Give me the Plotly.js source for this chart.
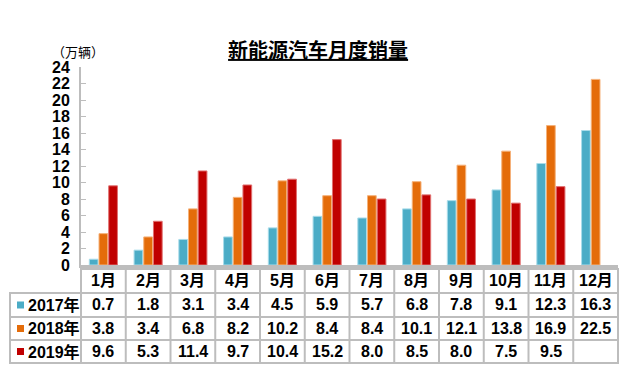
<!DOCTYPE html>
<html>
<head>
<meta charset="utf-8">
<script src="https://cdn.plot.ly/plotly-3.0.1.min.js"></script>
<style>html,body{margin:0;padding:0;background:#fff;}#chart{width:640px;height:380px;}</style>
</head>
<body>
<div id="chart"></div>
<script>
const months = ["1月","2月","3月","4月","5月","6月","7月","8月","9月","10月","11月","12月"];
const seriesNames = ["2017年","2018年","2019年"];
const sales2017 = [0.7,1.8,3.1,3.4,4.5,5.9,5.7,6.8,7.8,9.1,12.3,16.3];
const sales2018 = [3.8,3.4,6.8,8.2,10.2,8.4,8.4,10.1,12.1,13.8,16.9,22.5];
const sales2019 = [9.6,5.3,11.4,9.7,10.4,15.2,8.0,8.5,8.0,7.5,9.5,null];
const yTicks = [0,2,4,6,8,10,12,14,16,18,20,22,24];
const colors = ["#4BACC6","#E46C0A","#C00000"];
const edgeColors = ["#A9DCEA","#F5B27A","#E07070"];
const allSeries = [sales2017, sales2018, sales2019];

const FONT = "Liberation Sans, Arial, Noto Sans CJK SC, sans-serif";
const GRID = "#BDBDBD";
const PW = 537, PH = 198;

const traces = allSeries.map((vals, i) => ({
  type: "bar", name: seriesNames[i], x: months, y: vals,
  marker: {color: colors[i], line: {color: edgeColors[i], width: 1}},
  hoverinfo: "x+y"
}));

// table geometry (paper coords)
const rowLines = [-0.0202, -0.1414, -0.2626, -0.3788, -0.4949];
const rowCenters = [-0.0808, -0.2020, -0.3207, -0.4369];
const leftEdge = (10 - 81) / PW;
const th = 1 / PH, tw = 1 / PW; // half line thickness

const shapes = [];
rowLines.forEach((y, i) => {
  shapes.push({type: "rect", xref: "paper", yref: "paper",
    x0: (i === 0 ? 0 : leftEdge) - tw, x1: 1 + tw, y0: y - th, y1: y + th,
    fillcolor: GRID, line: {width: 0}});
});
for (let k = 0; k <= months.length; k++) {
  const x = k / months.length;
  shapes.push({type: "rect", xref: "paper", yref: "paper",
    x0: x - tw, x1: x + tw, y0: rowLines[4] - th, y1: rowLines[0] + th,
    fillcolor: GRID, line: {width: 0}});
}
shapes.push({type: "rect", xref: "paper", yref: "paper",
  x0: leftEdge - tw, x1: leftEdge + tw, y0: rowLines[4] - th, y1: rowLines[1] + th,
  fillcolor: GRID, line: {width: 0}});
seriesNames.forEach((n, i) => {
  const yc = rowCenters[i + 1];
  shapes.push({type: "rect", xref: "paper", yref: "paper",
    x0: (17 - 81) / PW, x1: (24 - 81) / PW,
    y0: yc - 3.5 / PH, y1: yc + 3.5 / PH,
    fillcolor: colors[i], line: {width: 0}});
});

const annotations = [];
const cellFont = {size: 16, color: "#000", family: FONT};
months.forEach((m, j) => {
  annotations.push({xref: "x", yref: "paper", x: m, y: rowCenters[0],
    xanchor: "center", yanchor: "middle",
    text: "<b>" + m + "</b>", showarrow: false, font: cellFont});
  allSeries.forEach((vals, i) => {
    if (vals[j] !== null) {
      annotations.push({xref: "x", yref: "paper", x: m, y: rowCenters[i + 1],
        xanchor: "center", yanchor: "middle",
        text: "<b>" + vals[j].toFixed(1) + "</b>", showarrow: false, font: cellFont});
    }
  });
});
seriesNames.forEach((n, i) => {
  annotations.push({xref: "paper", yref: "paper", x: (26 - 81) / PW, y: rowCenters[i + 1],
    xanchor: "left", yanchor: "middle", text: "<b>" + n + "</b>", showarrow: false,
    font: cellFont});
});
annotations.push({xref: "paper", yref: "paper", x: (50 - 81) / PW, y: (265 - 52) / PH,
  xanchor: "left", yanchor: "middle", text: "（万辆）", showarrow: false,
  font: {size: 13, color: "#000", family: FONT}});

const layout = {
  width: 640, height: 380,
  margin: {l: 81, r: 22, t: 67, b: 115},
  paper_bgcolor: "#fff", plot_bgcolor: "#fff",
  showlegend: false,
  barmode: "group", bargap: 0.35, bargroupgap: 0.1,
  font: {family: FONT, color: "#000"},
  title: {text: "<b><u>新能源汽车月度销量</u></b>", x: 0.497, xanchor: "center",
    xref: "container", yref: "container", y: 0.866, yanchor: "middle",
    font: {size: 20, color: "#000", family: FONT}},
  xaxis: {type: "category", showticklabels: false, showline: true, linecolor: GRID, linewidth: 3,
    ticks: "outside", tickson: "boundaries", ticklen: 4, tickcolor: GRID, tickwidth: 1,
    showgrid: false, zeroline: false, fixedrange: true},
  yaxis: {range: [0, 24], tickvals: yTicks, ticktext: yTicks.map(v => "<b>" + v + "</b>"),
    showline: true, linecolor: GRID, linewidth: 2, ticks: "inside", ticklen: 5,
    tickcolor: GRID, tickwidth: 1, showgrid: false, zeroline: false,
    ticklabelstandoff: 6, tickfont: {size: 16, color: "#000", family: FONT}, fixedrange: true},
  shapes: shapes,
  annotations: annotations
};

Plotly.newPlot("chart", traces, layout, {displayModeBar: false, staticPlot: true});
</script>
</body>
</html>
